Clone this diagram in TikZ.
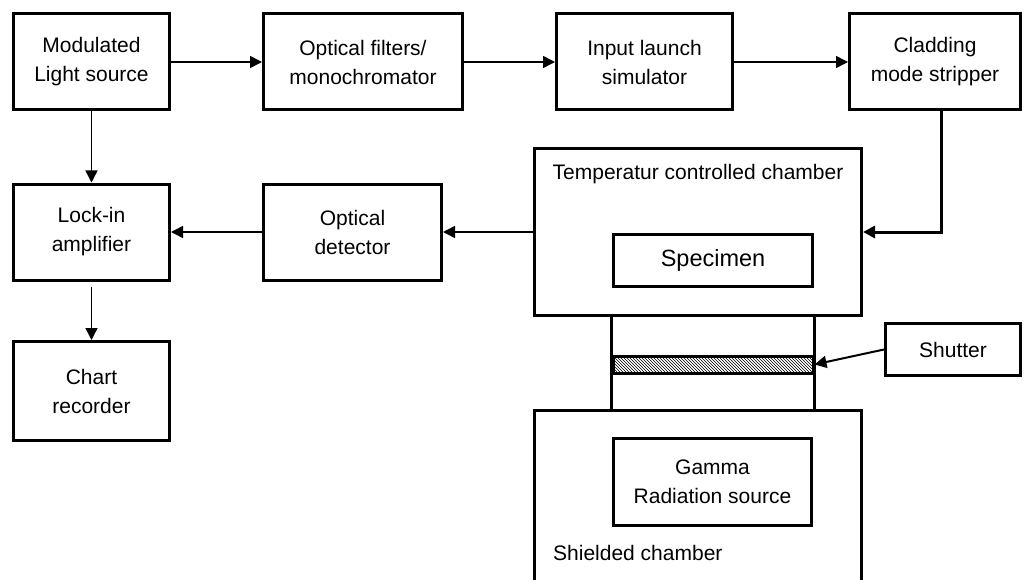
\documentclass[tikz,border=0pt]{standalone}
\usepackage{fontspec}
\setmainfont{Liberation Sans}
\usetikzlibrary{arrows.meta,patterns}

\begin{document}
\begin{tikzpicture}[x=1pt, y=-1pt,
        box/.style={draw, line width=3pt, align=center, inner sep=0pt,
            font=\fontsize{21}{29}\selectfont},
        lab/.style={inner sep=0pt, font=\fontsize{21}{29}\selectfont},
        arr/.style={line width=1.5pt, -{Triangle[length=12pt,width=12pt]}}]
        \useasboundingbox (0,0) rectangle (1024,580);
        \clip (0,0) rectangle (1024,580);

        % 第一行
        \node[box, minimum width=156pt, minimum height=96pt] (mls) at (91.5,62) {Modulated\\Light source};
        \node[box, minimum width=199pt, minimum height=96pt] (filt) at (363,62) {Optical filters/\\monochromator};
        \node[box, minimum width=176pt, minimum height=96pt] (ils) at (644.5,62) {Input launch\\simulator};
        \node[box, minimum width=171pt, minimum height=96pt] (cms) at (935,62) {Cladding\\mode stripper};

        % 左边
        \node[box, minimum width=156pt, minimum height=96pt] (lock) at (91.5,232) {Lock-in\\amplifier};
        \node[box, minimum width=178pt, minimum height=96pt] (det) at (352.5,232) {Optical\\detector};
        \node[box, minimum width=156pt, minimum height=99pt] (chart) at (91.5,391) {Chart\\recorder};

        % 两个腔
        \node[box, minimum width=327pt, minimum height=166pt] (tcc) at (698,232) {};
        \node[lab] (tcclab) at (698,174) {Temperatur controlled chamber};
        \node[box, minimum width=199pt, minimum height=52pt, font=\fontsize{23.5}{29}\selectfont] (spec) at (713,260.5) {Specimen};
        \node[box, minimum width=327pt, minimum height=190pt] (shc) at (698,505) {};
        \node[box, minimum width=198pt, minimum height=87pt] (gam) at (712.5,482) {Gamma\\Radiation source};
        \node[lab, anchor=west] (shclab) at (553,553) {Shielded chamber};

        % 快门
        \node[draw, line width=3pt, pattern=north west lines, inner sep=0pt,
            minimum width=200pt, minimum height=17pt] (band) at (713,364.5) {};
        \draw[line width=3pt] (band.west |- tcc.south) -- (band.west |- shc.north);
        \draw[line width=3pt] (band.east |- tcc.south) -- (band.east |- shc.north);
        \node[box, minimum width=135pt, minimum height=52pt] (shut) at (953,349.5) {Shutter};

        % 箭头
        \draw[arr] (mls) -- (filt);
        \draw[arr] (filt) -- (ils);
        \draw[arr] (ils) -- (cms);
        \draw[arr] (mls) -- (lock);
        \draw[arr] (det) -- (lock);
        \draw[arr] (tcc) -- (det);
        \draw[arr, shorten <=5pt] (lock) -- (chart);
        \draw[arr, line width=3pt] ([xshift=6pt]cms.south) |- (tcc.east);
        \draw[arr, line width=2pt] (shut.west) -- (band.east);
\end{tikzpicture}
\end{document}
